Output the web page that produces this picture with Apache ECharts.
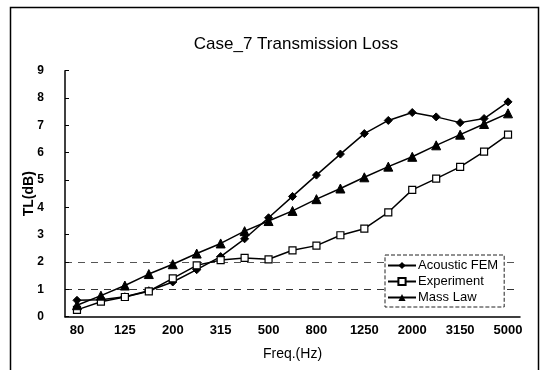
<!DOCTYPE html>
<html>
<head>
<meta charset="utf-8">
<script src="https://cdn.jsdelivr.net/npm/echarts@6/dist/echarts.min.js"></script>
<style>html,body{margin:0;padding:0;background:#fff;}#c{width:551px;height:370px;}</style>
</head>
<body>
<div id="c"></div>
<script>
var categories = ['80','100','125','160','200','250','315','400','500','630','800','1000','1250','1600','2000','2500','3150','4000','5000'];
var acousticFEM = [0.6,0.62,0.73,0.95,1.27,1.72,2.2,2.85,3.62,4.4,5.18,5.95,6.7,7.18,7.47,7.31,7.1,7.25,7.86];
var experiment = [0.25,0.55,0.72,0.93,1.4,1.88,2.07,2.15,2.1,2.43,2.6,2.98,3.22,3.82,4.64,5.05,5.48,6.04,6.66];
var massLaw = [0.42,0.77,1.14,1.56,1.92,2.31,2.68,3.13,3.5,3.87,4.3,4.69,5.1,5.49,5.85,6.27,6.66,7.05,7.44];
var yTicks = [0,1,2,3,4,5,6,7,8,9];

var font = '"Liberation Sans", Arial, sans-serif';
var chart = echarts.init(document.getElementById('c'), null, {renderer: 'canvas'});
var clear = 'rgba(0,0,0,0)';
chart.setOption({
  backgroundColor: '#fff',
  animation: false,
  title: {
    text: 'Case_7 Transmission Loss',
    left: 291, top: 31, textAlign: 'center',
    textStyle: {fontFamily: font, fontSize: 17, fontWeight: 'normal', color: '#000'}
  },
  graphic: [{
    type: 'rect', shape: {x: 10.5, y: 7.5, width: 528, height: 420},
    style: {fill: 'none', stroke: '#000', lineWidth: 1.5}, silent: true
  }],
  legend: {
    orient: 'vertical', left: 385, top: 255,
    borderColor: '#222', borderWidth: 1, borderType: 'dashed',
    padding: [4, 6, 3, 2], itemGap: 3, itemWidth: 28, itemHeight: 9,
    backgroundColor: '#fff',
    textStyle: {fontFamily: font, fontSize: 13, color: '#000', padding: [0,0,0,-3]},
    data: ['Acoustic FEM', 'Experiment', 'Mass Law']
  },
  grid: {left: 65, right: 31, top: 70.7, bottom: 53.3},
  xAxis: {
    type: 'category', data: categories, boundaryGap: true,
    name: 'Freq.(Hz)', nameLocation: 'middle', nameGap: 30, nameMoveOverlap: false,
    nameTextStyle: {fontFamily: font, fontSize: 14, color: '#000'},
    axisLine: {lineStyle: {color: '#000', width: 1.5}},
    axisTick: {inside: true, length: 4, lineStyle: {color: '#000'}},
    axisLabel: {interval: 1, fontFamily: font, fontSize: 13, fontWeight: 'bold', color: '#000', margin: 7},
    splitLine: {show: false}
  },
  yAxis: {
    type: 'value', min: yTicks[0], max: yTicks[yTicks.length-1], interval: 1,
    name: 'TL(dB)', nameLocation: 'middle', nameGap: 29, nameMoveOverlap: false,
    nameTextStyle: {fontFamily: font, fontSize: 14, fontWeight: 'bold', color: '#000'},
    axisLine: {show: true, lineStyle: {color: '#000', width: 1.5}},
    axisTick: {show: true, inside: true, length: 4, lineStyle: {color: '#000'}},
    axisLabel: {fontFamily: font, fontSize: 12, fontWeight: 'bold', color: '#000', margin: 21},
    splitLine: {show: true, lineStyle: {color: [clear, '#333', '#555', clear, clear, clear, clear, clear, clear, clear], type: [7, 6], width: 1}}
  },
  series: [
    {name: 'Acoustic FEM', type: 'line', data: acousticFEM, symbol: 'diamond', symbolSize: 8,
     lineStyle: {color: '#000', width: 1.5}, itemStyle: {color: '#000', borderColor: '#000'}},
    {name: 'Experiment', type: 'line', data: experiment, symbol: 'rect', symbolSize: 7,
     lineStyle: {color: '#000', width: 1.5}, itemStyle: {color: '#fff', borderColor: '#000', borderWidth: 1.2}},
    {name: 'Mass Law', type: 'line', data: massLaw, symbol: 'triangle', symbolSize: 9,
     lineStyle: {color: '#000', width: 1.5}, itemStyle: {color: '#000', borderColor: '#000'}}
  ]
});
</script>
</body>
</html>
